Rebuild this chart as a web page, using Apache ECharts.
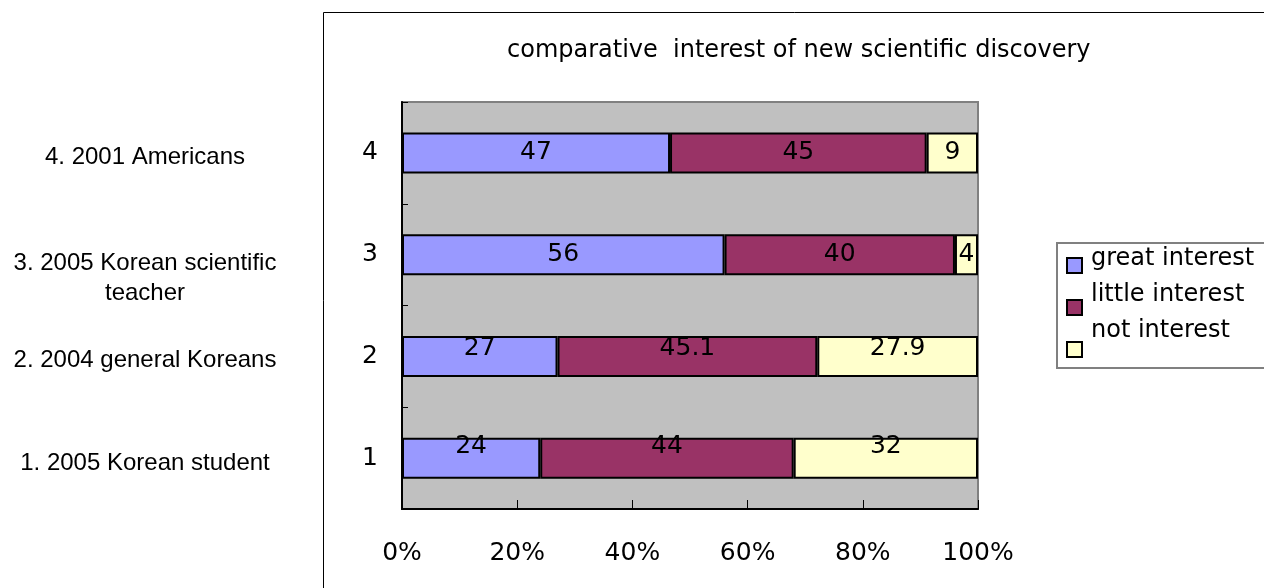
<!DOCTYPE html>
<html>
<head>
<meta charset="utf-8">
<script src="https://cdn.jsdelivr.net/npm/echarts@6/dist/echarts.min.js"></script>
<style>
  html, body { margin: 0; padding: 0; background: #ffffff; }
  #chart { width: 1264px; height: 588px; }
</style>
</head>
<body>
<div id="chart"></div>
<script>
// Survey groups (bottom to top) and the share answering each way
const categories = ['1', '2', '3', '4'];
const groupNames = [
  '1. 2005 Korean student',
  '2. 2004 general Koreans',
  '3. 2005 Korean scientific\nteacher',
  '4. 2001 Americans'
];
const seriesNames = ['great interest', 'little interest', 'not interest'];
const greatInterest = [24, 27, 56, 47];
const littleInterest = [44, 45.1, 40, 45];
const notInterest = [32, 27.9, 4, 9];
const xTickStep = 20;

// Label lift per row (pixels), for the rows whose values sit high in the bar
const labelLift = [12, 8, 0, 0];
const seriesColors = ['#9999FF', '#993366', '#FFFFCC'];
const baseFont = 'DejaVu Sans';

const rawValues = [greatInterest, littleInterest, notInterest];
const rowTotals = categories.map((_, i) => rawValues.reduce((s, arr) => s + arr[i], 0));

const chart = echarts.init(document.getElementById('chart'), null, { renderer: 'canvas' });

const series = rawValues.map((arr, si) => ({
  name: seriesNames[si],
  type: 'bar',
  stack: 'share',
  barWidth: 41,
  itemStyle: { color: seriesColors[si], borderColor: '#000000', borderWidth: 2 },
  label: {
    show: true,
    position: 'inside',
    color: '#000000',
    fontFamily: baseFont,
    fontSize: 25,
    formatter: p => String(arr[p.dataIndex])
  },
  data: arr.map((v, i) => ({
    value: v / rowTotals[i] * 100,
    label: { offset: [0, -labelLift[i]] }
  }))
}));

// Group captions beside the chart frame
const captionGraphics = [
  { text: groupNames[0], y: 463 },
  { text: groupNames[1], y: 360 },
  { text: groupNames[2], y: 278 },
  { text: groupNames[3], y: 157 }
].map(c => ({
  type: 'text',
  x: 145,
  y: c.y,
  silent: true,
  style: {
    text: c.text,
    fill: '#000000',
    font: '24px "Liberation Sans"',
    align: 'center',
    verticalAlign: 'middle',
    lineHeight: 30
  }
}));

// Legend box: swatch sits a little below its caption
const legendBox = { x: 1057, y: 243, w: 230, h: 125 };
const legendGraphics = [{
  type: 'rect',
  silent: true,
  shape: { x: legendBox.x, y: legendBox.y, width: legendBox.w, height: legendBox.h },
  style: { fill: '#ffffff', stroke: '#808080', lineWidth: 2 }
}];
seriesNames.forEach((name, i) => {
  legendGraphics.push({
    type: 'rect',
    silent: true,
    shape: { x: 1067, y: 258 + i * 42, width: 15, height: 15 },
    style: { fill: seriesColors[i], stroke: '#000000', lineWidth: 2 }
  });
  legendGraphics.push({
    type: 'text',
    silent: true,
    x: 1091,
    y: 259 + i * 36,
    style: {
      text: name,
      fill: '#000000',
      font: '24px "' + baseFont + '"',
      align: 'left',
      verticalAlign: 'middle'
    }
  });
});

chart.setOption({
  animation: false,
  backgroundColor: '#ffffff',
  title: {
    text: 'comparative  interest of new scientific discovery',
    left: 502,
    top: 34,
    textStyle: { fontFamily: baseFont, fontSize: 24, fontWeight: 'normal', color: '#000000' }
  },
  grid: {
    left: 402,
    right: 286,
    top: 102,
    bottom: 79,
    show: true,
    backgroundColor: '#C0C0C0',
    borderColor: '#808080',
    borderWidth: 2
  },
  xAxis: {
    type: 'value',
    min: 0,
    max: 100,
    interval: xTickStep,
    axisLine: { show: true, lineStyle: { color: '#000000', width: 2 } },
    axisTick: { show: true, inside: true, length: 9, lineStyle: { color: '#000000', width: 1 } },
    splitLine: { show: false },
    axisLabel: {
      formatter: '{value}%',
      margin: 32,
      color: '#000000',
      fontFamily: baseFont,
      fontSize: 25
    }
  },
  yAxis: {
    type: 'category',
    data: categories,
    axisLine: { show: true, lineStyle: { color: '#000000', width: 2 } },
    axisTick: { show: true, inside: true, length: 6, lineStyle: { color: '#000000', width: 1 } },
    axisLabel: {
      margin: 24,
      color: '#000000',
      fontFamily: baseFont,
      fontSize: 25
    }
  },
  graphic: [
    {
      type: 'rect',
      shape: { x: 323.5, y: 12.5, width: 1000, height: 700 },
      style: { fill: 'none', stroke: '#000000', lineWidth: 1 },
      z: -10,
      silent: true
    },
    ...captionGraphics,
    ...legendGraphics
  ],
  series: series
});
</script>
</body>
</html>
